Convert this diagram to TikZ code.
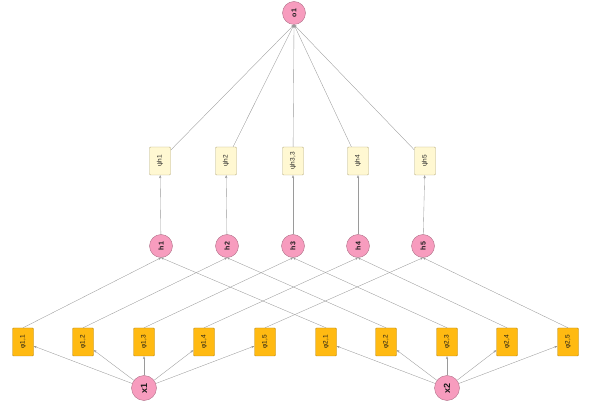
\documentclass[tikz,border=0pt]{standalone}
\usepackage{fontspec}
\setmainfont{Liberation Sans}
\usetikzlibrary{arrows.meta}
\definecolor{pinkf}{HTML}{F79CBE}
\definecolor{pinkd}{HTML}{B07088}
\definecolor{creamf}{HTML}{FFF8D2}
\definecolor{creamd}{HTML}{B8AE80}
\definecolor{goldf}{HTML}{FFBA12}
\definecolor{goldd}{HTML}{B88A20}
\definecolor{edgec}{HTML}{9A9A9A}
\tikzset{
  circ/.style={circle, draw=pinkd, fill=pinkf, line width=0.4pt, minimum size=23pt, inner sep=0pt, font=\fontsize{7}{8}\selectfont\bfseries, text=black!90},
  bigcirc/.style={circ, minimum size=25pt, font=\fontsize{9}{10}\selectfont\bfseries},
  psibox/.style={rectangle, rounded corners=1pt, draw=creamd, fill=creamf, line width=0.4pt, minimum width=21pt, minimum height=28pt, inner sep=0pt, font=\fontsize{6.5}{7}\selectfont, text=black!85},
  phibox/.style={rectangle, rounded corners=1pt, draw=goldd, fill=goldf, line width=0.4pt, minimum width=21pt, minimum height=28pt, inner sep=0pt, font=\fontsize{6.5}{7}\selectfont, text=black!90},
  conn/.style={draw=edgec, line width=0.35pt, -{Stealth[length=3pt,width=2.4pt]}},
}
\begin{document}
\begin{tikzpicture}[x=1pt,y=-1pt]
\useasboundingbox (0,0) rectangle (603,414);
\node[circ] (o1) at (294,13) {\rotatebox{90}{o1}};
\node[psibox] (p1) at (160,161) {\rotatebox{90}{ψh1}};
\node[psibox] (p2) at (226,161) {\rotatebox{90}{ψh2}};
\node[psibox] (p3) at (293,161) {\rotatebox{90}{ψh3,3}};
\node[psibox] (p4) at (358,161) {\rotatebox{90}{ψh4}};
\node[psibox] (p5) at (425,161) {\rotatebox{90}{ψh5}};
\node[circ] (h1) at (161,246) {\rotatebox{90}{h1}};
\node[circ] (h2) at (227,246) {\rotatebox{90}{h2}};
\node[circ] (h3) at (293,246) {\rotatebox{90}{h3}};
\node[circ] (h4) at (358,246) {\rotatebox{90}{h4}};
\node[circ] (h5) at (423,246) {\rotatebox{90}{h5}};
\node[phibox] (a1) at (23,342) {\rotatebox{90}{φ1,1}};
\node[phibox] (a2) at (83,342) {\rotatebox{90}{φ1,2}};
\node[phibox] (a3) at (144,342) {\rotatebox{90}{φ1,3}};
\node[phibox] (a4) at (204,342) {\rotatebox{90}{φ1,4}};
\node[phibox] (a5) at (265,342) {\rotatebox{90}{φ1,5}};
\node[phibox] (b1) at (326,342) {\rotatebox{90}{φ2,1}};
\node[phibox] (b2) at (386,342) {\rotatebox{90}{φ2,2}};
\node[phibox] (b3) at (447,342) {\rotatebox{90}{φ2,3}};
\node[phibox] (b4) at (507,342) {\rotatebox{90}{φ2,4}};
\node[phibox] (b5) at (568,342) {\rotatebox{90}{φ2,5}};
\node[bigcirc] (x1) at (144,388) {\rotatebox{90}{x1}};
\node[bigcirc] (x2) at (447,388) {\rotatebox{90}{x2}};
\foreach \i in {1,...,5}{
  \draw[conn] (p\i) -- (o1.south);
  \draw[conn] (h\i) -- (p\i);
  \draw[conn] (a\i.north) -- (h\i.south);
  \draw[conn] (b\i.north) -- (h\i.south);
  \draw[conn] (x1) -- (a\i);
  \draw[conn] (x2) -- (b\i);
}
\end{tikzpicture}
\end{document}
